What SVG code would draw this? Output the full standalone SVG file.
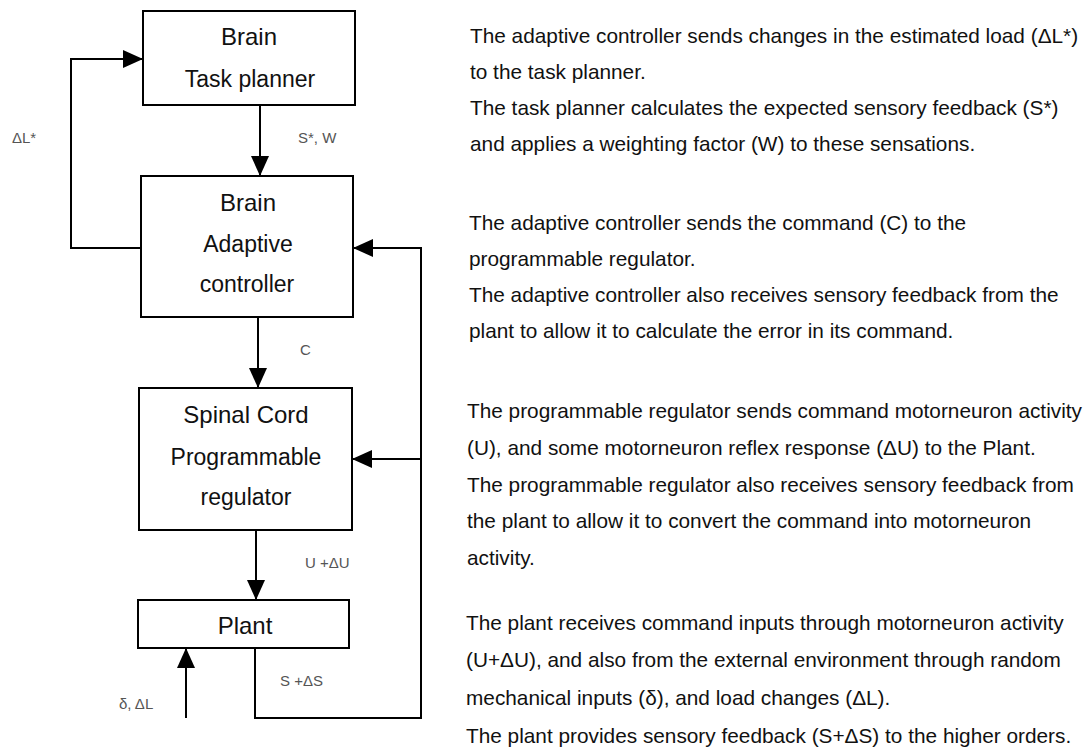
<svg xmlns="http://www.w3.org/2000/svg" width="1089" height="751" viewBox="0 0 1089 751">
<style>
.box{fill:#fff;stroke:#000;stroke-width:2}
.hd{font-family:"Liberation Sans",Arial,sans-serif;font-size:24px;fill:#111;text-anchor:middle}
.sub{font-family:"Liberation Sans",Arial,sans-serif;font-size:23px;fill:#111;text-anchor:middle}
.lbl{font-family:"Liberation Sans",Arial,sans-serif;font-size:15px;fill:#555}
.desc{font-family:"Liberation Sans",Arial,sans-serif;font-size:20.8px;fill:#111}
.ln{fill:none;stroke:#000;stroke-width:2}
</style>
<defs>
<marker id="ah" viewBox="0 0 20 18" markerWidth="20" markerHeight="18" refX="20" refY="9" orient="auto" markerUnits="userSpaceOnUse">
<path d="M0,0 L20,9 L0,18 z" fill="#000"/>
</marker>
</defs>
<rect width="1089" height="751" fill="#fff"/>
<g id="connectors">
<line class="ln" x1="260" y1="105" x2="260" y2="176" marker-end="url(#ah)"/>
<line class="ln" x1="258" y1="317" x2="258" y2="388" marker-end="url(#ah)"/>
<line class="ln" x1="256" y1="530" x2="256" y2="600" marker-end="url(#ah)"/>
<polyline class="ln" points="141,248 71,248 71,59 143,59" marker-end="url(#ah)"/>
<line class="ln" x1="186" y1="718" x2="186" y2="648" marker-end="url(#ah)"/>
<polyline class="ln" points="255,648 255,718 421,718 421,248 353,248" marker-end="url(#ah)"/>
<line class="ln" x1="421" y1="459" x2="352" y2="459" marker-end="url(#ah)"/>
<text class="lbl" x="298" y="143">S*, W</text>
<text class="lbl" x="12" y="143">ΔL*</text>
<text class="lbl" x="300" y="355">C</text>
<text class="lbl" x="305" y="568">U +ΔU</text>
<text class="lbl" x="280" y="686">S +ΔS</text>
<text class="lbl" x="119" y="709">δ, ΔL</text>
</g>
<g id="task-planner">
<rect class="box" x="143" y="11" width="212" height="94"/>
<text class="hd" x="249" y="45">Brain</text>
<text class="sub" x="250" y="87">Task planner</text>
</g>
<g id="adaptive-controller">
<rect class="box" x="141" y="176" width="212" height="141"/>
<text class="hd" x="248" y="211">Brain</text>
<text class="sub" x="248" y="252">Adaptive</text>
<text class="sub" x="247" y="292">controller</text>
</g>
<g id="programmable-regulator">
<rect class="box" x="139" y="388" width="213" height="142"/>
<text class="hd" x="246" y="423">Spinal Cord</text>
<text class="sub" x="246" y="465">Programmable</text>
<text class="sub" x="246" y="505">regulator</text>
</g>
<g id="plant">
<rect class="box" x="138" y="600" width="211" height="48"/>
<text class="hd" x="245" y="634">Plant</text>
</g>
<g id="descriptions">
<text class="desc" x="470" y="43">The adaptive controller sends changes in the estimated load (ΔL*)</text>
<text class="desc" x="470" y="79">to the task planner.</text>
<text class="desc" x="470" y="115">The task planner calculates the expected sensory feedback (S*)</text>
<text class="desc" x="470" y="151">and applies a weighting factor (W) to these sensations.</text>
<text class="desc" x="469" y="230">The adaptive controller sends the command (C) to the</text>
<text class="desc" x="469" y="266">programmable regulator.</text>
<text class="desc" x="469" y="302">The adaptive controller also receives sensory feedback from the</text>
<text class="desc" x="469" y="338">plant to allow it to calculate the error in its command.</text>
<text class="desc" x="467" y="418">The programmable regulator sends command motorneuron activity</text>
<text class="desc" x="467" y="455">(U), and some motorneuron reflex response (ΔU) to the Plant.</text>
<text class="desc" x="467" y="492">The programmable regulator also receives sensory feedback from</text>
<text class="desc" x="467" y="528">the plant to allow it to convert the command into motorneuron</text>
<text class="desc" x="467" y="565">activity.</text>
<text class="desc" x="466" y="630">The plant receives command inputs through motorneuron activity</text>
<text class="desc" x="466" y="667">(U+ΔU), and also from the external environment through random</text>
<text class="desc" x="466" y="705">mechanical inputs (δ), and load changes (ΔL).</text>
<text class="desc" x="466" y="743">The plant provides sensory feedback (S+ΔS) to the higher orders.</text>
</g>
</svg>
